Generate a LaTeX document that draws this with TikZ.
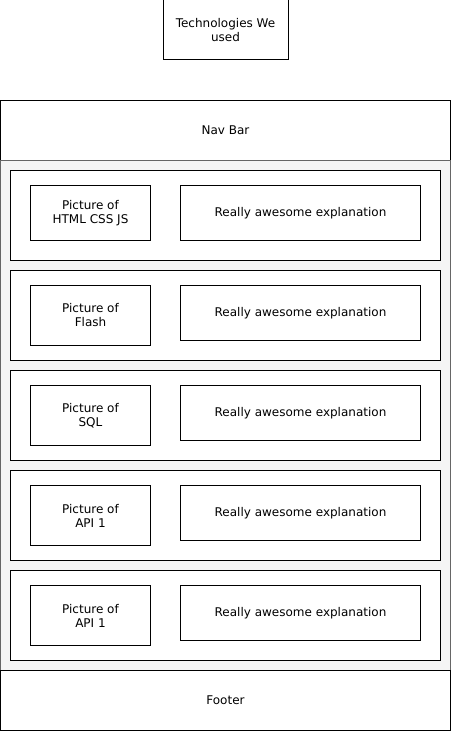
\documentclass[tikz,border=0pt]{standalone}
\usepackage{fontspec}
\setmainfont{DejaVu Sans}
\usetikzlibrary{positioning}
\definecolor{panelgray}{HTML}{F5F5F5}
\definecolor{panelline}{HTML}{666666}

\begin{document}
\begin{tikzpicture}[x=0.75pt, y=-0.75pt, font=\fontsize{9}{10.5}\selectfont,
  box/.style={draw, line width=0.75pt, fill=white, inner sep=0pt, align=center},
  wide/.style={box, minimum width=450*0.75pt, minimum height=60*0.75pt},
  card/.style={box, minimum width=430*0.75pt, minimum height=90*0.75pt}]
\useasboundingbox (0,0) rectangle (451,731);
\node[box, minimum width=125*0.75pt, minimum height=60*0.75pt] (title) at (225.5,30) {Technologies We\\used};
\node[wide] (nav) at (225.5,130.5) {Nav Bar};
\node[draw=panelline, fill=panelgray, line width=0.75pt, minimum width=450*0.75pt, minimum height=510*0.75pt, inner sep=0pt] (panel) at (225.5,415.5) {};
\node[wide] (footer) at (225.5,700.5) {Footer};
\foreach \i/\what/\h in {1/HTML CSS JS/55, 2/Flash/60, 3/SQL/60, 4/API 1/60, 5/API 1/60}{
  \node[card] (row\i) at (225.5,115.5+100*\i) {};
  \node[box, minimum width=120*0.75pt, minimum height=\h*0.75pt] (pic\i) at (90.5,85.5+100*\i+\h/2) {Picture of\\\what};
  \node[box, minimum width=240*0.75pt, minimum height=55*0.75pt] (expl\i) at (300.5,113+100*\i) {Really awesome explanation};
}
\end{tikzpicture}
\end{document}
